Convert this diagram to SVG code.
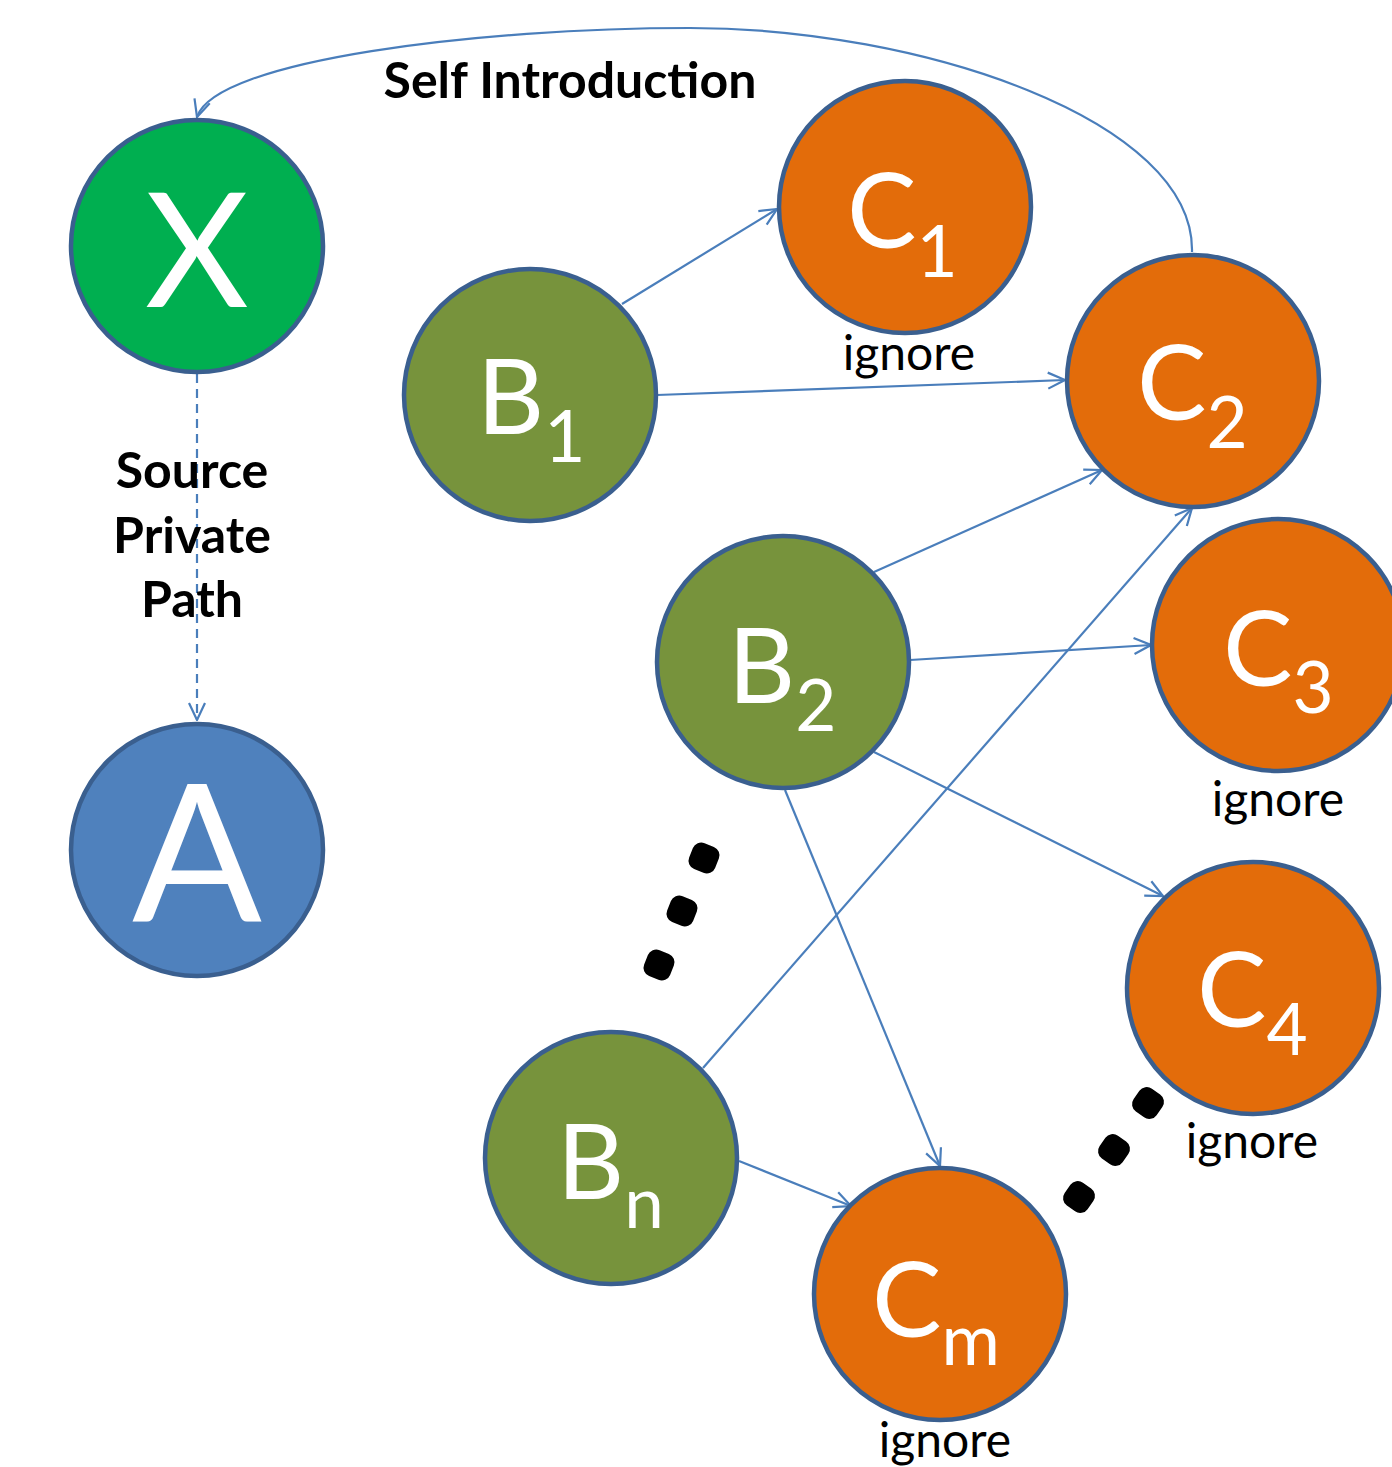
<svg xmlns="http://www.w3.org/2000/svg" width="1392" height="1467" viewBox="0 0 1392 1467">
<style>
.node{stroke:#3A5F8F;stroke-width:4.5}
.green{fill:#00AF50}.olive{fill:#77933C}.orange{fill:#E36C0A}.blue{fill:#4F81BD}
.big{font-family:Lato,"Open Sans",sans-serif;fill:#fff;font-size:104px}
.sub{font-size:71px}
.ign{font-family:Lato,"Open Sans",sans-serif;fill:#000;font-size:48px;text-anchor:middle}
.lbl{font-family:Lato,"Open Sans",sans-serif;font-weight:bold;fill:#000;font-size:50px;text-anchor:middle}
.edge{fill:none;stroke:#4A7EBB;stroke-width:2.2;marker-end:url(#arr)}
.dot{fill:#000}
</style>
<defs>
<marker id="arr" viewBox="0 0 20 20" refX="19" refY="10" markerWidth="20" markerHeight="20" markerUnits="userSpaceOnUse" orient="auto">
<path d="M2,2 L19,10 L2,18" fill="none" stroke="#4A7EBB" stroke-width="2.2"/>
</marker>
</defs>
<g id="connectors">
<path class="edge" d="M1192,252 C1195,120 920,28 690,28 C480,28 215,60 197,117"/>
<path class="edge" d="M197,374 L197,720" stroke-dasharray="9,6"/>
<path class="edge" d="M622,304 L777,209"/>
<path class="edge" d="M657,395 L1065,380"/>
<path class="edge" d="M874,572 L1102,470"/>
<path class="edge" d="M910,660 L1151,645"/>
<path class="edge" d="M874,752 L1163,896"/>
<path class="edge" d="M785,790 L940,1166"/>
<path class="edge" d="M703,1068 L1192,508"/>
<path class="edge" d="M739,1161 L851,1206"/>
</g>
<g id="X"><circle class="node green" cx="197" cy="246" r="126"/><text class="big" x="197" y="307" style="font-size:160px" text-anchor="middle">X</text></g>
<g id="A"><circle class="node blue" cx="197" cy="850" r="126"/><text class="big" x="197" y="922" style="font-size:192px" text-anchor="middle">A</text></g>
<g id="B1"><circle class="node olive" cx="530" cy="395" r="126"/><text class="big" x="477" y="434">B<tspan class="sub" dy="28">1</tspan></text></g>
<g id="B2"><circle class="node olive" cx="783" cy="662" r="126"/><text class="big" x="728" y="703">B<tspan class="sub" dy="28">2</tspan></text></g>
<g id="Bn"><circle class="node olive" cx="611" cy="1158" r="126"/><text class="big" x="557" y="1199">B<tspan class="sub" dy="29">n</tspan></text></g>
<g id="C1"><circle class="node orange" cx="905" cy="207" r="126"/><text class="big" x="847" y="248">C<tspan class="sub" dy="29">1</tspan></text><text class="ign" x="909" y="370">ignore</text></g>
<g id="C2"><circle class="node orange" cx="1193" cy="381" r="126"/><text class="big" x="1137" y="420">C<tspan class="sub" dy="28">2</tspan></text></g>
<g id="C3"><circle class="node orange" cx="1278" cy="645" r="126"/><text class="big" x="1223" y="686">C<tspan class="sub" dy="27">3</tspan></text><text class="ign" x="1278" y="816">ignore</text></g>
<g id="C4"><circle class="node orange" cx="1253" cy="988" r="126"/><text class="big" x="1197" y="1027">C<tspan class="sub" dy="28">4</tspan></text><text class="ign" x="1252" y="1158">ignore</text></g>
<g id="Cm"><circle class="node orange" cx="940" cy="1294" r="126"/><text class="big" x="872" y="1337">C<tspan class="sub" dy="28">m</tspan></text><text class="ign" x="945" y="1457">ignore</text></g>
<g id="labels">
<text class="lbl" x="570" y="98">Self Introduction</text>
<text class="lbl" x="192" y="488">Source</text>
<text class="lbl" x="192" y="553">Private</text>
<text class="lbl" x="192" y="617">Path</text>
</g>
<g id="dots">
<rect class="dot" x="-14" y="-14" width="28" height="28" rx="9" transform="translate(704,858) rotate(22)"/>
<rect class="dot" x="-14" y="-14" width="28" height="28" rx="9" transform="translate(682,911) rotate(22)"/>
<rect class="dot" x="-14" y="-14" width="28" height="28" rx="9" transform="translate(659,965) rotate(22)"/>
<rect class="dot" x="-14" y="-14" width="28" height="28" rx="9" transform="translate(1148,1103) rotate(35)"/>
<rect class="dot" x="-14" y="-14" width="28" height="28" rx="9" transform="translate(1114,1150) rotate(35)"/>
<rect class="dot" x="-14" y="-14" width="28" height="28" rx="9" transform="translate(1079,1197) rotate(35)"/>
</g>
</svg>
